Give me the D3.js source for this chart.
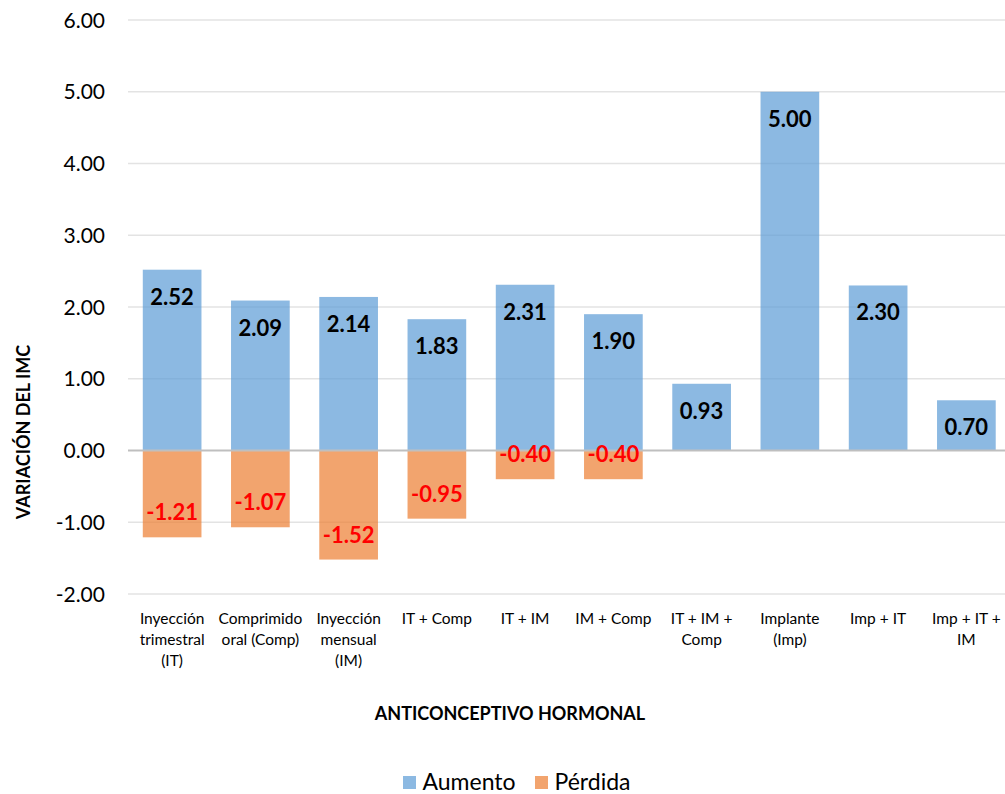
<!DOCTYPE html>
<html>
<head>
<meta charset="utf-8">
<script src="https://cdn.jsdelivr.net/npm/d3@7"></script>
<style>
  html, body { margin: 0; padding: 0; background: #ffffff; }
  svg { display: block; font-family: Lato, "Open Sans", sans-serif; }
</style>
</head>
<body>
<svg id="chart" width="1005" height="794"></svg>
<script>
// Categories (multi-line labels split with "|")
const categories = [
  "Inyección|trimestral|(IT)",
  "Comprimido|oral (Comp)",
  "Inyección|mensual|(IM)",
  "IT + Comp",
  "IT + IM",
  "IM + Comp",
  "IT + IM +|Comp",
  "Implante|(Imp)",
  "Imp + IT",
  "Imp + IT +|IM"
];
// Series values (null where there is no bar)
const aumento = [2.52, 2.09, 2.14, 1.83, 2.31, 1.90, 0.93, 5.00, 2.30, 0.70];
const perdida = [-1.21, -1.07, -1.52, -0.95, -0.40, -0.40, null, null, null, null];
const yTicks = [-2, -1, 0, 1, 2, 3, 4, 5, 6];
const seriesNames = ["Aumento", "Pérdida"];

const svg = d3.select("#chart");
const W = 1005, H = 794;

// Two decimals with a plain hyphen as the minus sign
const fmt = d3.formatLocale({ decimal: ".", thousands: ",", grouping: [3], currency: ["", ""], minus: "-" }).format(".2f");

const x = d3.scaleBand()
  .domain(categories)
  .range([128, 128 + 88.25 * categories.length])
  .paddingInner(0.335)
  .paddingOuter(0.1675);

const y = d3.scaleLinear().domain([-2, 6]).range([594, 20]);

const blue = "#5B9BD5", orange = "#ED7D31";

// Horizontal gridlines
svg.append("g").selectAll("line")
  .data(yTicks.filter(t => t !== 0))
  .join("line")
  .attr("x1", 128).attr("x2", W)
  .attr("y1", d => y(d)).attr("y2", d => y(d))
  .attr("stroke", "#e3e3e3").attr("stroke-width", 1.5);

// Y tick labels
svg.append("g").selectAll("text")
  .data(yTicks)
  .join("text")
  .attr("x", 105).attr("y", d => y(d) + 7.5)
  .attr("text-anchor", "end")
  .attr("font-size", 21).attr("fill", "#000")
  .text(d => fmt(d));

// Bars
const bars = svg.append("g");
bars.selectAll("rect.aum")
  .data(aumento.map((v, i) => ({ v, c: categories[i] })).filter(d => d.v != null))
  .join("rect").attr("class", "aum")
  .attr("x", d => x(d.c)).attr("width", x.bandwidth())
  .attr("y", d => y(d.v)).attr("height", d => y(0) - y(d.v))
  .attr("fill", blue).attr("fill-opacity", 0.7);

bars.selectAll("rect.per")
  .data(perdida.map((v, i) => ({ v, c: categories[i] })).filter(d => d.v != null))
  .join("rect").attr("class", "per")
  .attr("x", d => x(d.c)).attr("width", x.bandwidth())
  .attr("y", y(0)).attr("height", d => y(d.v) - y(0))
  .attr("fill", orange).attr("fill-opacity", 0.7);

// Zero line
svg.append("line")
  .attr("x1", 128).attr("x2", W)
  .attr("y1", y(0)).attr("y2", y(0))
  .attr("stroke", "#bfbfbf").attr("stroke-width", 2);

// Value labels
const labels = svg.append("g").attr("font-weight", 700).attr("font-size", 22).attr("text-anchor", "middle");
labels.selectAll("text.aum")
  .data(aumento.map((v, i) => ({ v, c: categories[i] })).filter(d => d.v != null))
  .join("text").attr("class", "aum")
  .attr("x", d => x(d.c) + x.bandwidth() / 2)
  .attr("y", d => y(d.v) + 35)
  .attr("fill", "#000")
  .text(d => fmt(d.v));
labels.selectAll("text.per")
  .data(perdida.map((v, i) => ({ v, c: categories[i] })).filter(d => d.v != null))
  .join("text").attr("class", "per")
  .attr("x", d => x(d.c) + x.bandwidth() / 2)
  .attr("y", d => y(d.v) - 17)
  .attr("fill", "#ff0000")
  .text(d => fmt(d.v));

// Category labels
const cat = svg.append("g").attr("font-size", 15.5).attr("text-anchor", "middle").attr("fill", "#000");
categories.forEach(c => {
  const t = cat.append("text").attr("x", x(c) + x.bandwidth() / 2).attr("y", 624);
  c.split("|").forEach((line, i) => {
    t.append("tspan").attr("x", x(c) + x.bandwidth() / 2).attr("dy", i === 0 ? 0 : 21).text(line);
  });
});

// Axis titles
svg.append("text")
  .attr("x", 510).attr("y", 720)
  .attr("text-anchor", "middle").attr("font-weight", 700).attr("font-size", 18)
  .text("ANTICONCEPTIVO HORMONAL");
svg.append("text")
  .attr("transform", "translate(30,432) rotate(-90)")
  .attr("text-anchor", "middle").attr("font-weight", 700).attr("font-size", 18)
  .text("VARIACIÓN DEL IMC");

// Legend
const legendItems = [
  { name: seriesNames[0], color: blue, x: 403 },
  { name: seriesNames[1], color: orange, x: 535 }
];
const lg = svg.append("g");
legendItems.forEach(it => {
  lg.append("rect").attr("x", it.x).attr("y", 776).attr("width", 13).attr("height", 13)
    .attr("fill", it.color).attr("fill-opacity", 0.7);
  lg.append("text").attr("x", it.x + 19.5).attr("y", 790).attr("font-size", 23).text(it.name);
});
</script>
</body>
</html>
